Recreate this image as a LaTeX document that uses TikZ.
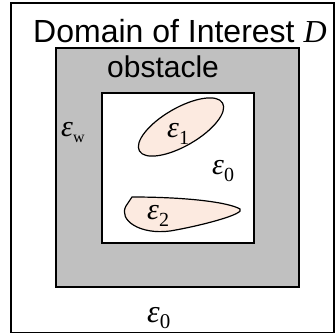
\documentclass[tikz,border=0pt]{standalone}
\usepackage{fontspec}
\setmainfont{Liberation Sans}
\newfontfamily\tnr{Liberation Serif}
\definecolor{obsgray}{HTML}{C0C0C0}
\definecolor{peach}{HTML}{FCEAE0}
\newcommand{\epsub}[3]{{\fontsize{#1}{#1}\tnr\itshape ε}{\fontsize{#2}{#2}\tnr\raisebox{-0.32em}{#3}}}
\begin{document}
\begin{tikzpicture}[x=1pt,y=-1pt,
  frame/.style={draw=black,line width=1.3pt},
  blob/.style={draw=black,fill=peach,line width=1.2pt},
  lbl/.style={anchor=base west,inner sep=0pt,font=\fontsize{30}{30}\selectfont},
  epslbl/.style={anchor=base west,inner sep=0pt}]
\useasboundingbox (0,0) rectangle (335,334);
\draw[frame] (11,3) rectangle (334,332.5);
\draw[frame,fill=obsgray] (56,48) rectangle (299,287);
\draw[frame,fill=white] (102,93) rectangle (254,243);
\draw[blob,rotate around={30:(181,127)}] (181,127) ellipse [x radius=48, y radius=19];
\draw[blob] (132,197) .. controls (185,197) and (228,202) .. (240,209)
  .. controls (246,214) and (200,226) .. (170,231)
  .. controls (140,235) and (118,220) .. (126,206) -- cycle;
\node[lbl,font=\fontsize{32}{32}\selectfont] (dom) at (33,43) {Domain of Interest {\tnr\itshape D}};
\node[lbl] (obs) at (107,78) {obstacle};
\node[epslbl] (e1) at (167,138) {\epsub{30}{20}{1}};
\node[epslbl] (e0i) at (212,175) {\epsub{30}{20}{0}};
\node[epslbl] (e2) at (147,220) {\epsub{30}{20}{2}};
\node[epslbl] (ew) at (61,137) {\epsub{30}{16}{w}};
\node[epslbl] (e0b) at (147,322) {\epsub{32}{21}{0}};
\end{tikzpicture}
\end{document}
